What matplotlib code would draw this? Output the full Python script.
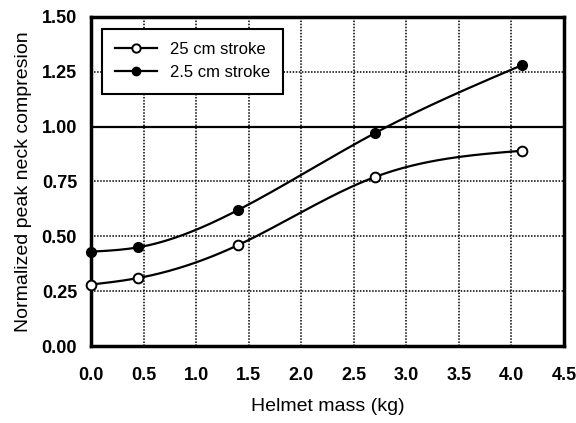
import matplotlib
matplotlib.use("Agg")
import matplotlib.pyplot as plt
import numpy as np

plt.rcParams['font.family'] = ['Liberation Sans', 'DejaVu Sans']

# helmet mass (kg) and normalized peak neck compression
mass = [0.0, 0.45, 1.40, 2.70, 4.10]
stroke_25cm = [0.28, 0.31, 0.46, 0.77, 0.89]
stroke_2_5cm = [0.43, 0.45, 0.62, 0.97, 1.28]


def natural_spline(x, y, n=200):
    # plain natural cubic spline through the points, for the smooth curve look
    x = np.asarray(x, float)
    y = np.asarray(y, float)
    k = len(x)
    h = np.diff(x)
    A = np.zeros((k, k))
    b = np.zeros(k)
    A[0, 0] = A[-1, -1] = 1
    for i in range(1, k - 1):
        A[i, i - 1] = h[i - 1]
        A[i, i] = 2 * (h[i - 1] + h[i])
        A[i, i + 1] = h[i]
        b[i] = 6 * ((y[i + 1] - y[i]) / h[i] - (y[i] - y[i - 1]) / h[i - 1])
    m = np.linalg.solve(A, b)
    xs = np.linspace(x[0], x[-1], n)
    idx = np.clip(np.searchsorted(x, xs) - 1, 0, k - 2)
    t0 = x[idx]
    t1 = x[idx + 1]
    hh = t1 - t0
    ys = (m[idx] * (t1 - xs) ** 3 / (6 * hh) + m[idx + 1] * (xs - t0) ** 3 / (6 * hh)
          + (y[idx] / hh - m[idx] * hh / 6) * (t1 - xs)
          + (y[idx + 1] / hh - m[idx + 1] * hh / 6) * (xs - t0))
    return xs, ys


fig = plt.figure(figsize=(5.76, 4.23), dpi=100)
ax = fig.add_axes([0.158, 0.182, 0.821, 0.778])

xs, ys = natural_spline(mass, stroke_25cm)
ax.plot(xs, ys, color='black', linewidth=1.6, zorder=3)
ax.plot(mass, stroke_25cm, 'o', color='black', markerfacecolor='white',
        markeredgewidth=1.4, markersize=7, zorder=4, clip_on=False)
ax.plot([], [], '-o', color='black', markerfacecolor='white', markeredgewidth=1.4,
        markersize=6, linewidth=1.6, label='25 cm stroke')

xs, ys = natural_spline(mass, stroke_2_5cm)
ax.plot(xs, ys, color='black', linewidth=1.6, zorder=3)
ax.plot(mass, stroke_2_5cm, 'o', color='black', markersize=7, zorder=4, clip_on=False)
ax.plot([], [], '-o', color='black', markersize=6, linewidth=1.6, label='2.5 cm stroke')

ax.axhline(1.0, color='black', linewidth=1.6, zorder=2)

ax.set_xlim(0, 4.5)
ax.set_ylim(0, 1.5)
ax.set_xticks(np.arange(0, 4.51, 0.5))
ax.set_yticks(np.arange(0, 1.51, 0.25))
ax.set_xticklabels([f'{v:.1f}' for v in np.arange(0, 4.51, 0.5)])
ax.set_yticklabels([f'{v:.2f}' for v in np.arange(0, 1.51, 0.25)])
ax.tick_params(axis='y', length=0, labelsize=13, pad=10)
ax.tick_params(axis='x', length=0, labelsize=13, pad=15)
for lab in ax.get_xticklabels() + ax.get_yticklabels():
    lab.set_fontweight('bold')

ax.grid(True, linestyle=(0, (1, 1)), linewidth=1.1, color='black')
for s in ax.spines.values():
    s.set_linewidth(2.5)

ax.set_xlabel('Helmet mass (kg)', fontsize=14, labelpad=10)
ax.set_ylabel('Normalized peak neck compresion', fontsize=14, labelpad=7)

leg = ax.legend(loc='upper left', fontsize=12, fancybox=False, framealpha=1,
                edgecolor='black', borderpad=0.8, handlelength=2.5,
                bbox_to_anchor=(0.005, 0.99))
leg.get_frame().set_linewidth(1.5)

fig.savefig('out.png', dpi=100)
